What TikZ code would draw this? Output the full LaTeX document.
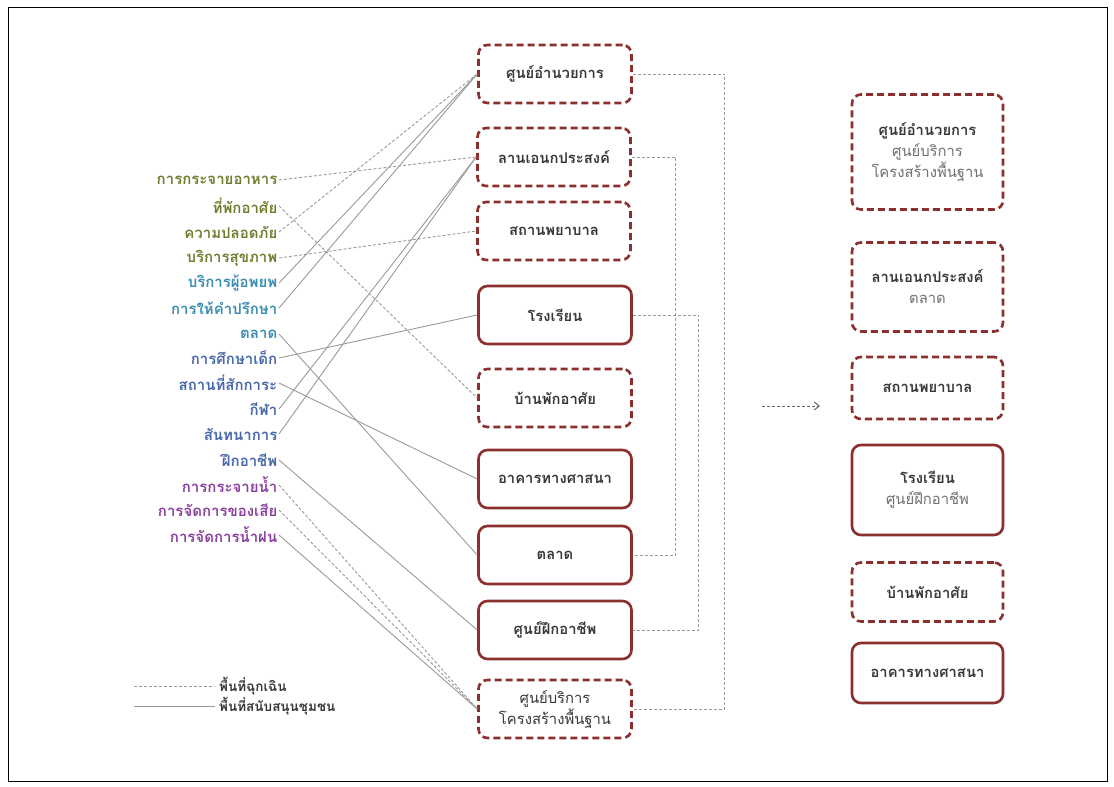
\documentclass[tikz,border=0pt]{standalone}
\usepackage{fontspec}
\newfontfamily\thai[Script=Thai]{Loma}
\usetikzlibrary{arrows.meta}
\definecolor{boxred}{HTML}{8B2F2F}
\definecolor{txt}{HTML}{383838}
\definecolor{sub}{HTML}{707070}
\definecolor{lgreen}{HTML}{6F7F2F}
\definecolor{lteal}{HTML}{3D8DB3}
\definecolor{lblue}{HTML}{4868AA}
\definecolor{lpurple}{HTML}{8B3F9F}
\definecolor{conn}{HTML}{9A9A9A}
\tikzset{
  box/.style={draw=boxred, line width=2.6pt, rounded corners=9pt, minimum width=153pt,
    minimum height=58pt, font=\thai\bfseries\fontsize{14.8}{21}\selectfont, text=txt, align=center, inner sep=2pt},
  dbox/.style={box, dash pattern=on 7pt off 4pt},
  rbox/.style={box, minimum width=151pt},
  rdbox/.style={dbox, minimum width=151pt},
  lab/.style={anchor=east, inner sep=1.5pt, font=\thai\bfseries\fontsize{15}{17}\selectfont},
  solidc/.style={draw=conn, line width=0.9pt},
  dashc/.style={draw=conn, line width=0.9pt, dash pattern=on 3pt off 2pt},
  leg/.style={anchor=west, inner sep=1pt, font=\thai\bfseries\fontsize{13.5}{15}\selectfont, text=txt},
}
\begin{document}
\begin{tikzpicture}[x=1pt,y=-1pt]
\useasboundingbox (0,0) rectangle (1114,787);
\fill[white] (0,0) rectangle (1114,787);
\draw[black, line width=1pt] (8,7) rectangle (1107,781);

% middle boxes
\node[dbox] (b1) at (555,74) {ศูนย์อำนวยการ};
\node[dbox] (b2) at (554,157) {ลานเอนกประสงค์};
\node[dbox] (b3) at (554,231) {สถานพยาบาล};
\node[box]  (b4) at (555,315) {โรงเรียน};
\node[dbox] (b5) at (555,398) {บ้านพักอาศัย};
\node[box]  (b6) at (555,479) {อาคารทางศาสนา};
\node[box]  (b7) at (555,555) {ตลาด};
\node[box]  (b8) at (555,630) {ศูนย์ฝึกอาชีพ};
\node[dbox] (b9) at (555,709) {\mdseries\textcolor{txt}{ศูนย์บริการ}\\\mdseries\textcolor{txt}{โครงสร้างพื้นฐาน}};

% right boxes
\node[rdbox, minimum height=115pt] (r1) at (927.5,152) {ศูนย์อำนวยการ\\\textcolor{sub}{\mdseries ศูนย์บริการ}\\\textcolor{sub}{\mdseries โครงสร้างพื้นฐาน}};
\node[rdbox, minimum height=89pt] (r2) at (927.5,287) {ลานเอนกประสงค์\\\textcolor{sub}{\mdseries ตลาด}};
\node[rdbox, minimum height=62pt] (r3) at (927.5,388) {สถานพยาบาล};
\node[rbox, minimum height=90pt] (r4) at (927.5,490) {โรงเรียน\\\textcolor{sub}{\mdseries ศูนย์ฝึกอาชีพ}};
\node[rdbox, minimum height=59pt] (r5) at (927.5,592) {บ้านพักอาศัย};
\node[rbox, minimum height=60pt] (r6) at (927.5,673) {อาคารทางศาสนา};

% left labels
\node[lab, text=lgreen] (l1) at (279,180) {การกระจายอาหาร};
\node[lab, text=lgreen] (l2) at (279,206) {ที่พักอาศัย};
\node[lab, text=lgreen] (l3) at (279,232) {ความปลอดภัย};
\node[lab, text=lgreen] (l4) at (279,258) {บริการสุขภาพ};
\node[lab, text=lteal] (l5) at (279,283) {บริการผู้อพยพ};
\node[lab, text=lteal] (l6) at (279,308) {การให้คำปรึกษา};
\node[lab, text=lteal] (l7) at (279,334) {ตลาด};
\node[lab, text=lblue] (l8) at (279,358) {การศึกษาเด็ก};
\node[lab, text=lblue] (l9) at (279,383) {สถานที่สักการะ};
\node[lab, text=lblue] (l10) at (279,409) {กีฬา};
\node[lab, text=lblue] (l11) at (279,434) {สันทนาการ};
\node[lab, text=lblue] (l12) at (279,460) {ฝึกอาชีพ};
\node[lab, text=lpurple] (l13) at (279,485) {การกระจายน้ำ};
\node[lab, text=lpurple] (l14) at (279,510) {การจัดการของเสีย};
\node[lab, text=lpurple] (l15) at (279,535) {การจัดการน้ำฝน};

% left connectors
\draw[dashc] (l1.east) -- (b2.west);
\draw[dashc] (l2.east) -- (b5.west);
\draw[dashc] (l3.east) -- (b1.west);
\draw[dashc] (l4.east) -- (b3.west);
\draw[solidc] (l5.east) -- (b1.west);
\draw[solidc] (l6.east) -- (b1.west);
\draw[solidc] (l7.east) -- (b7.west);
\draw[solidc] (l8.east) -- (b4.west);
\draw[solidc] (l9.east) -- (b6.west);
\draw[solidc] (l10.east) -- (b2.west);
\draw[solidc] (l11.east) -- (b2.west);
\draw[solidc] (l12.east) -- (b8.west);
\draw[dashc] (l13.east) -- (b9.west);
\draw[dashc] (l14.east) -- (b9.west);
\draw[solidc] (l15.east) -- (b9.west);

% right connectors
\draw[dashc] (b1.east) -- ++(92,0) |- (b9.east);
\draw[dashc] (b2.east) -- ++(44,0) |- (b7.east);
\draw[dashc] (b4.east) -- ++(66,0) |- (b8.east);

% transition arrow
\coordinate (a1) at (762,406);
\coordinate (a2) at (820,406);
\draw[draw=black!60, line width=1pt, dash pattern=on 3pt off 2pt, -{Straight Barb[length=5pt,width=8pt]}] (a1) -- (a2);

% legend
\coordinate (g1a) at (134,686);
\coordinate (g1b) at (215,686);
\coordinate (g2a) at (134,706);
\coordinate (g2b) at (215,706);
\draw[dashc] (g1a) -- (g1b);
\draw[solidc] (g2a) -- (g2b);
\node[leg] (t1) at (218,686) {พื้นที่ฉุกเฉิน};
\node[leg] (t2) at (218,706) {พื้นที่สนับสนุนชุมชน};
\end{tikzpicture}
\end{document}
